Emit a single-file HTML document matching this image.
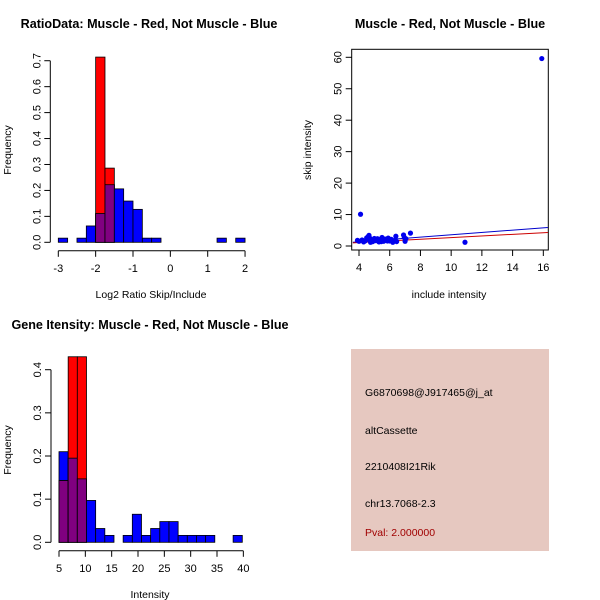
<!DOCTYPE html>
<html><head><meta charset="utf-8"><style>
body{margin:0;background:#fff}
svg{display:block;font-family:"Liberation Sans",Arial,sans-serif}
</style></head><body>
<svg id="s" width="600" height="600" viewBox="0 0 600 600" xmlns="http://www.w3.org/2000/svg">
<rect width="600" height="600" fill="#fff"/>
<text x="149" y="28" text-anchor="middle" font-size="12.6" font-weight="bold">RatioData: Muscle - Red, Not Muscle - Blue</text>
<text x="450" y="28" text-anchor="middle" font-size="12.6" font-weight="bold">Muscle - Red, Not Muscle - Blue</text>
<text x="150" y="329" text-anchor="middle" font-size="12.6" font-weight="bold">Gene Itensity: Muscle - Red, Not Muscle - Blue</text>
<text x="151" y="298" text-anchor="middle" font-size="10.5">Log2 Ratio Skip/Include</text>
<text x="150" y="598" text-anchor="middle" font-size="10.5">Intensity</text>
<text x="449" y="298" text-anchor="middle" font-size="10.5">include intensity</text>
<text transform="translate(11,150) rotate(-90)" text-anchor="middle" font-size="10.5">Frequency</text>
<text transform="translate(11,450) rotate(-90)" text-anchor="middle" font-size="10.5">Frequency</text>
<text transform="translate(311,150) rotate(-90)" text-anchor="middle" font-size="10.5">skip intensity</text>
<g id="g1"></g><g id="g2"></g><g id="g3"></g>
<rect x="351" y="349" width="198" height="202" fill="#e6c8c0"/>
<g font-size="10.5">
<text x="365" y="396">G6870698@J917465@j_at</text>
<text x="365" y="434">altCassette</text>
<text x="365" y="470">2210408I21Rik</text>
<text x="365" y="507">chr13.7068-2.3</text>
<text x="365" y="536" fill="#a00000">Pval: 2.000000</text>
</g>
</svg>
<script>
// Ratio histogram
const ratioBinStart = -3, ratioBinWidth = 0.25;
const ratioBlue = [0.016,0,0.016,0.063,0.111,0.222,0.206,0.159,0.127,0.016,0.016,0,0,0,0,0,0,0.016,0,0.016];
const ratioRed  = [0,0,0,0,0.714,0.286,0,0,0,0,0,0,0,0,0,0,0,0,0,0];
const ratioXTicks = [-3,-2,-1,0,1,2];
const ratioYTicks = [0,0.1,0.2,0.3,0.4,0.5,0.6,0.7];
// Intensity histogram
const intBinStart = 5, intBinWidth = 1.74;
const intBlue = [0.21,0.195,0.147,0.097,0.032,0.016,0,0.016,0.065,0.016,0.032,0.048,0.048,0.016,0.016,0.016,0.016,0,0,0.016];
const intRed  = [0.143,0.43,0.43,0,0,0,0,0,0,0,0,0,0,0,0,0,0,0,0,0];
const intXTicks = [5,10,15,20,25,30,35,40];
const intYTicks = [0,0.1,0.2,0.3,0.4];
// Scatter
const scatX = [4.1,15.9,10.9,7.35,3.9,4.0,4.2,4.3,4.4,4.5,4.55,4.6,4.65,4.7,4.8,4.9,5.0,5.1,5.2,5.3,5.4,5.5,5.6,5.7,5.8,5.9,6.0,6.1,6.2,6.3,6.4,6.45,6.9,6.95,7.0,7.05,4.75,5.05,5.45,5.85];
const scatY = [10.1,59.6,1.2,4.1,1.8,1.5,1.9,1.3,1.6,2.6,2.2,3.0,3.4,2.5,2.0,1.4,2.4,1.7,2.3,1.3,1.9,2.7,1.5,2.2,1.8,2.5,1.6,2.1,1.2,1.7,3.1,1.4,3.5,2.7,1.5,2.3,1.2,1.8,1.4,1.6];
const fitBlue = [[3.6,1.2],[16.3,5.9]];
const fitRed = [[3.6,1.0],[16.3,4.3]];
const scatXTicks = [4,6,8,10,12,14,16];
const scatYTicks = [0,10,20,30,40,50,60];

const NS="http://www.w3.org/2000/svg";
function mk(parent,tag,attrs){const e=document.createElementNS(NS,tag);for(const k in attrs)e.setAttribute(k,attrs[k]);parent.appendChild(e);return e;}

function hist(g,cfg){
  const X=v=>cfg.x0+(v-cfg.xmin)*cfg.xs, Y=v=>cfg.y0-v*cfg.ys;
  cfg.blue.forEach((b,i)=>{
    const r=cfg.red[i], a=cfg.start+i*cfg.w, x1=X(a), x2=X(a+cfg.w);
    if(b>0){const e=mk(g,'rect',{x:x1,y:Y(b),width:x2-x1,height:Y(0)-Y(b),fill:'#0000ff',stroke:'#000','stroke-width':0.8});
      
      }
    if(r>0){const e=mk(g,'rect',{x:x1,y:Y(r),width:x2-x1,height:Y(0)-Y(r),fill:'#ff0000',stroke:'#000','stroke-width':0.8});
      
      }
    const m=Math.min(b,r);
    if(m>0){const e=mk(g,'rect',{x:x1,y:Y(m),width:x2-x1,height:Y(0)-Y(m),fill:'#800080',stroke:'#000','stroke-width':0.8});
      
      }
  });
  const ax=cfg.y0+8.5;
  const xa=mk(g,'line',{x1:X(cfg.xt[0]),x2:X(cfg.xt[cfg.xt.length-1]),y1:ax,y2:ax,stroke:'#000'});
  
  
  cfg.xt.forEach(t=>{mk(g,'line',{x1:X(t),x2:X(t),y1:ax,y2:ax+6,stroke:'#000'});
    const e=mk(g,'text',{x:X(t),y:ax+21,'text-anchor':'middle','font-size':11});e.textContent=t;
    
    });
  const yx=cfg.x0-8;
  const ya=mk(g,'line',{x1:yx,x2:yx,y1:Y(cfg.yt[0]),y2:Y(cfg.yt[cfg.yt.length-1]),stroke:'#000'});
  
  
  cfg.yt.forEach(t=>{mk(g,'line',{x1:yx-6,x2:yx,y1:Y(t),y2:Y(t),stroke:'#000'});
    const e=mk(g,'text',{transform:`translate(${yx-10},${Y(t)}) rotate(-90)`,'text-anchor':'middle','font-size':11});e.textContent=t.toFixed(1);
    
    });
}
hist(document.getElementById('g1'),{x0:58.3,xmin:-3,xs:37.35,y0:242.3,ys:259.4,start:ratioBinStart,w:ratioBinWidth,blue:ratioBlue,red:ratioRed,xt:ratioXTicks,yt:ratioYTicks});
hist(document.getElementById('g3'),{x0:59,xmin:5,xs:5.267,y0:542.3,ys:431.5,start:intBinStart,w:intBinWidth,blue:intBlue,red:intRed,xt:intXTicks,yt:intYTicks});

(function(){
  const g=document.getElementById('g2');
  const X=v=>359+(v-4)*15.36, Y=v=>246-v*3.145;
  const box=mk(g,'rect',{x:351.7,y:49.3,width:196.6,height:200.7,fill:'none',stroke:'#000'});
  
  
  const lb=mk(g,'line',{x1:X(fitBlue[0][0]),y1:Y(fitBlue[0][1]),x2:X(fitBlue[1][0]),y2:Y(fitBlue[1][1]),stroke:'#0000cc'});
  
  
  const lr=mk(g,'line',{x1:X(fitRed[0][0]),y1:Y(fitRed[0][1]),x2:X(fitRed[1][0]),y2:Y(fitRed[1][1]),stroke:'#cc0000'});
  
  
  scatX.forEach((x,i)=>{const c=mk(g,'circle',{cx:X(x),cy:Y(scatY[i]),r:2.6,fill:'#0000ee'});
    
    });
  scatXTicks.forEach(t=>{mk(g,'line',{x1:X(t),x2:X(t),y1:250,y2:256,stroke:'#000'});
    const e=mk(g,'text',{x:X(t),y:271,'text-anchor':'middle','font-size':11});e.textContent=t;
    
    });
  scatYTicks.forEach(t=>{mk(g,'line',{x1:345.7,x2:351.7,y1:Y(t),y2:Y(t),stroke:'#000'});
    const e=mk(g,'text',{transform:`translate(341.5,${Y(t)}) rotate(-90)`,'text-anchor':'middle','font-size':11});e.textContent=t;
    
    });
})();
</script>
</body></html>
